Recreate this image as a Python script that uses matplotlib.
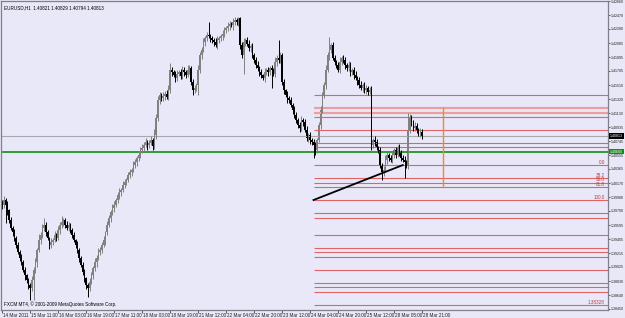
import matplotlib
matplotlib.use('Agg')
import matplotlib.pyplot as plt
import matplotlib.transforms as mtransforms
import numpy as np

plt.rcParams['font.family'] = ['Liberation Sans', 'DejaVu Sans']

# data #
########

symbol_info = 'EURUSD,H1  1.40821 1.40829 1.40794 1.40813'
copyright_txt = 'FXCM MT4, \u00a9 2001-2009 MetaQuotes Software Corp.'

# hourly closes, in pips above 1.3800
first_open_pips = 190
close_pips = [
    187, 194, 187, 180, 167, 156, 150, 142,
    133, 123, 115, 109, 98, 91, 85, 78,
    74, 85, 98, 109, 126, 139, 146, 156,
    160, 150, 142, 133, 137, 139, 146, 142,
    153, 160, 164, 167, 160, 156, 160, 153,
    146, 139, 133, 126, 115, 105, 96, 87,
    78, 74, 82, 91, 101, 109, 115, 123,
    126, 133, 139, 150, 160, 169, 178, 183,
    187, 194, 201, 205, 208, 215, 219, 221,
    228, 232, 235, 242, 246, 251, 256, 262,
    265, 269, 273, 269, 272, 276, 268, 283,
    306, 331, 338, 333, 336, 339, 335, 344,
    372, 369, 365, 361, 366, 369, 364, 372,
    369, 365, 372, 374, 355, 344, 347, 351,
    372, 392, 399, 410, 415, 420, 418, 415,
    413, 410, 406, 413, 415, 418, 421, 426,
    429, 432, 435, 433, 437, 440, 437, 443,
    406, 392, 410, 413, 407, 402, 405, 392,
    385, 379, 374, 369, 365, 361, 369, 372,
    369, 374, 372, 366, 383, 388, 385, 392,
    355, 344, 338, 333, 331, 324, 317, 310,
    303, 296, 292, 303, 301, 290, 279, 283,
    276, 273, 269, 262, 276, 296, 317, 338,
    351, 372, 392, 399, 406, 388, 383, 379,
    372, 383, 388, 385, 379, 374, 379, 369,
    372, 365, 361, 358, 351, 347, 351, 344,
    347, 342, 344, 269, 276, 273, 265, 262,
    242, 232, 235, 249, 256, 251, 249, 256,
    262, 256, 265, 260, 251, 249, 246, 242,
    290, 306, 301, 292, 295, 290, 284, 287,
    281,
]
# upper / lower shadows, pips
wick_up = [
    4, 6, 3, 5, 2, 4, 3, 5,
    3, 4, 2, 5, 3, 4, 2, 3,
    3, 5, 4, 6, 3, 8, 4, 5,
    10, 4, 3, 2, 5, 3, 6, 3,
    5, 4, 8, 3, 2, 6, 4, 3,
    3, 4, 2, 5, 3, 2, 4, 3,
    2, 3, 5, 4, 3, 6, 4, 5,
    4, 3, 6, 2, 5, 4, 3, 6,
    5, 3, 4, 6, 3, 5, 4, 3,
    4, 5, 3, 6, 4, 3, 5, 4,
    5, 4, 6, 3, 4, 5, 3, 8,
    6, 5, 4, 3, 6, 4, 5, 8,
    10, 4, 3, 5, 6, 3, 4, 5,
    4, 3, 6, 5, 3, 4, 5, 3,
    6, 5, 4, 6, 3, 4, 17, 3,
    4, 3, 5, 6, 4, 3, 5, 4,
    3, 5, 4, 3, 6, 4, 3, 2,
    1, 4, 5, 3, 4, 6, 3, 4,
    3, 4, 5, 3, 4, 2, 6, 3,
    4, 3, 5, 3, 6, 4, 25, 4,
    3, 4, 2, 5, 3, 4, 3, 5,
    4, 3, 5, 6, 3, 4, 5, 3,
    4, 3, 5, 4, 3, 5, 6, 4,
    5, 6, 4, 18, 3, 4, 5, 3,
    4, 6, 3, 5, 4, 3, 5, 4,
    3, 4, 5, 3, 4, 6, 3, 4,
    5, 3, 4, 6, 3, 5, 4, 3,
    4, 3, 5, 6, 4, 3, 5, 4,
    3, 5, 4, 6, 3, 4, 5, 3,
    23, 5, 4, 3, 6, 4, 3, 5,
    4,
]
wick_dn = [
    5, 4, 25, 6, 4, 3, 5, 4,
    4, 3, 5, 4, 3, 6, 4, 5,
    17, 5, 28, 4, 6, 3, 5, 4,
    4, 5, 3, 6, 4, 5, 3, 4,
    3, 5, 4, 6, 4, 3, 5, 4,
    4, 3, 5, 4, 6, 3, 4, 5,
    5, 13, 4, 3, 5, 4, 6, 3,
    4, 5, 3, 6, 4, 3, 5, 4,
    5, 3, 4, 5, 6, 3, 4, 5,
    3, 4, 5, 3, 4, 6, 3, 4,
    4, 5, 3, 6, 4, 3, 5, 4,
    6, 4, 5, 3, 4, 5, 3, 4,
    4, 5, 3, 6, 4, 3, 5, 4,
    5, 4, 3, 5, 4, 6, 3, 4,
    14, 4, 5, 3, 6, 4, 3, 5,
    4, 5, 3, 6, 4, 3, 5, 4,
    3, 4, 5, 3, 6, 4, 3, 5,
    6, 4, 25, 5, 3, 4, 6, 4,
    4, 5, 3, 6, 4, 3, 5, 4,
    5, 4, 25, 3, 4, 6, 3, 4,
    4, 5, 3, 6, 4, 3, 5, 4,
    4, 3, 5, 4, 6, 3, 4, 5,
    5, 4, 18, 6, 4, 3, 5, 4,
    4, 5, 3, 6, 4, 3, 5, 4,
    3, 4, 5, 3, 6, 4, 3, 5,
    4, 5, 3, 6, 4, 3, 5, 4,
    5, 4, 3, 6, 4, 5, 3, 4,
    4, 11, 5, 3, 6, 4, 3, 5,
    4, 5, 3, 6, 4, 3, 22, 4,
    5, 4, 6, 3, 4, 5, 3, 4,
    4,
]

time_labels = ['14 Mar 2011', '15 Mar 11:00', '16 Mar 03:00', '16 Mar 19:00',
               '17 Mar 11:00', '18 Mar 03:00', '18 Mar 19:00', '21 Mar 12:00',
               '22 Mar 04:00', '22 Mar 20:00', '23 Mar 12:00', '24 Mar 04:00',
               '24 Mar 20:00', '25 Mar 12:00', '28 Mar 05:00', '28 Mar 21:00']

price_ticks = [1.42660, 1.42470, 1.42280, 1.42085, 1.41895, 1.41705, 1.41510,
               1.41320, 1.41130, 1.40935, 1.40745, 1.40555, 1.40365, 1.40170,
               1.39980, 1.39790, 1.39595, 1.39405, 1.39215, 1.39025, 1.38830,
               1.38640, 1.38450]

# drawn objects
level_start_bar = 178
thin_levels = [1.41375, 1.41074, 1.40897, 1.40719, 1.40664,
               1.39762, 1.39694, 1.39461, 1.39284, 1.39229, 1.39160,
               1.38982, 1.38805, 1.38750, 1.38682, 1.38504]
thick_levels = [1.41197, 1.41129]
fib_levels = [1.40418, 1.40235, 1.40179, 1.40122, 1.39940]
fib_names = ['0.0', '38.2', '50.0', '61.8', '100.0']
low_label = '1.38328'
green_level = 1.40600
bid = 1.40813
trend_bars = [178, 229]
trend_prices = [1.39940, 1.40418]
vline_bar = 252
vline_prices = [1.40118, 1.41197]

# build candles #
#################
close = 1.38 + np.array(close_pips) / 1e4
opn = np.concatenate([[1.38 + first_open_pips / 1e4], close[:-1]])
high = np.maximum(opn, close) + np.array(wick_up) / 1e4
low = np.minimum(opn, close) - np.array(wick_dn) / 1e4
idx = np.arange(len(close))
bull = close >= opn

bg = '#e8e8f8'
W, H = 625, 318
fig = plt.figure(figsize=(W / 100, H / 100), dpi=100, facecolor=bg)
ax = fig.add_axes([1 / W, 8 / H, 607 / W, 309 / H], facecolor=bg)

# levels
red = '#e06464'
ax.hlines(thin_levels, level_start_bar, 400, colors=red, lw=0.8)
ax.hlines(thick_levels, level_start_bar, 400, colors='#eba0a0', lw=1.6)
ax.hlines(fib_levels, level_start_bar, 400, colors=red, lw=0.8)
ax.axhline(green_level, color='#109010', lw=1.2)
ax.axhline(bid, color='#a8a8b0', lw=0.8)
ax.plot([vline_bar, vline_bar], vline_prices, color='#f08c20', lw=1.0)

# candles
for m, col in ((bull, '#808080'), (~bull, '#000000')):
    ax.vlines(idx[m], low[m], high[m], colors=col, lw=0.7)
    ax.bar(idx[m], np.maximum(np.abs(close - opn)[m], 0.00004),
           bottom=np.minimum(opn, close)[m], width=0.75, color=col, linewidth=0)

ax.plot(trend_bars, trend_prices, color='black', lw=1.3)

ax.set_xlim(-0.6, 346.3)
ax.set_ylim(1.4266 - 309 * 0.0001367, 1.4266 + 0.00002)

# axes, ticks
for s in ax.spines.values():
    s.set_color('#808088')
    s.set_linewidth(0.9)

fs = 3.3
fsy = 2.6
ax.yaxis.tick_right()
ax.set_yticks(price_ticks)
ax.set_yticklabels(['%.5f' % p for p in price_ticks])
ax.tick_params(axis='y', direction='out', length=1.5, pad=0.4, labelsize=fsy,
               colors='#202020', width=0.5)

ax.set_xticks(np.arange(0, 16 * len(time_labels), 16))
ax.set_xticklabels(time_labels)
ax.tick_params(axis='x', direction='out', length=2, pad=0.5, labelsize=fs,
               colors='#202020', width=0.5)
off = mtransforms.ScaledTranslation(1.0 / 100, 0, fig.dpi_scale_trans)
for t in ax.get_xticklabels():
    t.set_horizontalalignment('left')
    t.set_transform(t.get_transform() + off)

# fib texts
tr = mtransforms.blended_transform_factory(ax.transAxes, ax.transData)
for lv, name in zip(fib_levels, fib_names):
    ax.text(0.995, lv + 0.00003, name, transform=tr, ha='right', va='bottom',
            fontsize=fs, color='#c03c3c')
ax.text(0.995, thin_levels[-1] + 0.00003, low_label, transform=tr, ha='right',
        va='bottom', fontsize=fs, color='#c03c3c')

# price boxes on the scale
ax.text(1.003, bid, '%.5f' % bid, transform=tr, ha='left', va='center',
        fontsize=fsy, color='white',
        bbox=dict(boxstyle='square,pad=0.2', fc='black', ec='none'))
ax.text(1.003, green_level, '%.5f' % green_level, transform=tr, ha='left',
        va='center', fontsize=fsy, color='white',
        bbox=dict(boxstyle='square,pad=0.2', fc='#109010', ec='none'))

fig.text(4 / W, 1 - 8 / H, symbol_info, fontsize=fs, color='black', va='center')
fig.text(4 / W, 1 - 304 / H, copyright_txt, fontsize=fs, color='black', va='center')

fig.savefig('out.png', dpi=100, facecolor=bg)
